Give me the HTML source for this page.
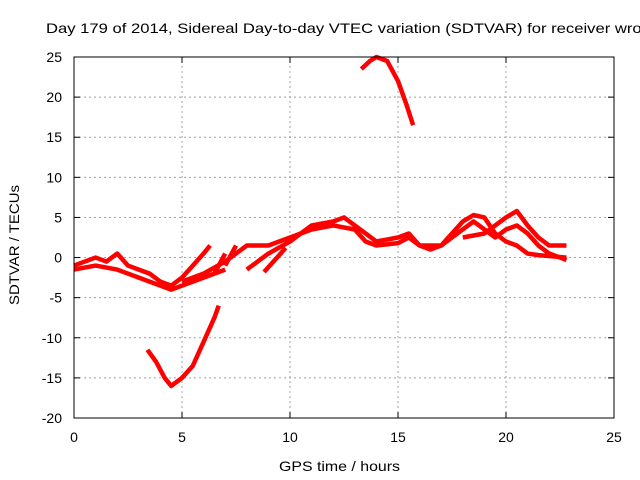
<!DOCTYPE html>
<html><head><meta charset="utf-8"><style>
body{margin:0;background:#fff;width:640px;height:480px;overflow:hidden}
svg{display:block;font-family:"Liberation Sans",sans-serif}
</style></head><body>
<svg id="chart" width="640" height="480">
<text x="46" y="33" font-size="14" textLength="604" lengthAdjust="spacingAndGlyphs" fill="#000">Day 179 of 2014, Sidereal Day-to-day VTEC variation (SDTVAR) for receiver wroc</text>
<g id="grid"></g>
<g id="marks"></g>
<rect x="74" y="57" width="540" height="361" fill="none" stroke="#000" stroke-width="1"/>
<g id="ticks"></g>
<text x="279" y="471" font-size="14" textLength="121" lengthAdjust="spacingAndGlyphs">GPS time / hours</text>
<text transform="translate(19,305) rotate(-90)" font-size="14" textLength="120" lengthAdjust="spacingAndGlyphs">SDTVAR / TECUs</text>
</svg>
<script>
const xTicks=[0,5,10,15,20,25];
const yTicks=[25,20,15,10,5,0,-5,-10,-15,-20];
const seriesA=[[0,-1.5],[1,-1],[2,-1.5],[3,-2.5],[4,-3.5],[4.5,-4],[5,-3.5],[6,-2.5],[7,-1.5]];
const seriesB=[[0,-1],[0.5,-0.5],[1,0],[1.5,-0.5],[2,0.5],[2.5,-1],[3,-1.5],[3.5,-2],[4,-3],[4.5,-3.5],[5,-2.5],[5.5,-1],[6,0.5],[6.3,1.5]];
const seriesC=[[5,-3],[6,-2],[7,-0.5],[7.5,0.5],[8,1.5],[9,1.5],[10,2.5],[11,3.5],[12,4],[13,3.5],[13.5,2],[14,1.5],[15,1.8],[15.5,2.5],[16,1.5],[16.5,1],[17,1.5],[17.5,2.5],[18,3.5],[18.5,4.5],[19,3.5],[19.5,2.5],[20,3.5],[20.5,4],[21,3],[21.5,1.5],[22,0.5],[22.5,0],[22.8,-0.3]];
const seriesD=[[8,-1.5],[9,0.5],[10,2],[11,4],[12,4.5],[12.5,5],[13,4],[13.5,3],[14,2],[15,2.5],[15.5,3],[16,1.5],[17,1.5],[18,4.5],[18.5,5.3],[19,5],[19.5,3],[20,2],[20.5,1.5],[21,0.5],[21.5,0.3],[22.8,0]];
const seriesE=[[18,2.5],[19,3],[19.5,4],[20,5],[20.5,5.8],[21,4],[21.5,2.5],[22,1.5],[22.8,1.5]];
const seriesF=[[13.3,23.5],[13.7,24.5],[14,25],[14.5,24.5],[15,22],[15.4,19],[15.7,16.5]];
const seriesG=[[3.4,-11.5],[3.8,-13],[4.2,-15],[4.5,-16],[5,-15],[5.5,-13.5],[6,-10.5],[6.5,-7.5],[6.7,-6]];
const seriesH=[[6.5,-2],[7,0.5]];
const seriesI=[[7,-1],[7.5,1.5]];
const seriesJ=[[8.8,-1.8],[9.8,1.2]];
const allSeries=[seriesA,seriesB,seriesC,seriesD,seriesE,seriesF,seriesG,seriesH,seriesI,seriesJ];
const X0=74,X1=614,Y0=418,Y1=57;
const sx=v=>X0+(v-0)/25*(X1-X0);
const sy=v=>Y0-(v+20)/45*(Y0-Y1);
const NS="http://www.w3.org/2000/svg";
const grid=document.getElementById('grid'),ticks=document.getElementById('ticks'),marks=document.getElementById('marks');
function mk(tag,attrs,parent){const e=document.createElementNS(NS,tag);for(const k in attrs)e.setAttribute(k,attrs[k]);parent.appendChild(e);return e;}
xTicks.forEach(t=>{
  const x=sx(t);
  if(t>0&&t<25){const g=mk('line',{x1:x,x2:x,y1:Y0,y2:Y1,stroke:'#a0a0a0','stroke-dasharray':'2,3'},grid);
  
  }
  mk('line',{x1:x,x2:x,y1:Y0,y2:Y0-6,stroke:'#000'},ticks);
  mk('line',{x1:x,x2:x,y1:Y1,y2:Y1+6,stroke:'#000'},ticks);
  const l=mk('text',{x:x,y:442,'font-size':14,'text-anchor':'middle'},ticks);l.textContent=t;
  
  
});
yTicks.forEach(t=>{
  const y=sy(t);
  if(t>-20&&t<25){const g=mk('line',{x1:X0,x2:X1,y1:y,y2:y,stroke:'#a0a0a0','stroke-dasharray':'2,3'},grid);
  
  }
  mk('line',{x1:X0,x2:X0+6,y1:y,y2:y,stroke:'#000'},ticks);
  mk('line',{x1:X1,x2:X1-6,y1:y,y2:y,stroke:'#000'},ticks);
  const l=mk('text',{x:62,y:y+5,'font-size':14,'text-anchor':'end'},ticks);l.textContent=t;
  
  
});
allSeries.forEach((s,i)=>{
  const p=mk('polyline',{points:s.map(d=>sx(d[0])+','+sy(d[1])).join(' '),fill:'none',stroke:'#ff0000','stroke-width':4.5,'stroke-linejoin':'round','stroke-linecap':'butt'},marks);
  
  
});
</script>
</body></html>
